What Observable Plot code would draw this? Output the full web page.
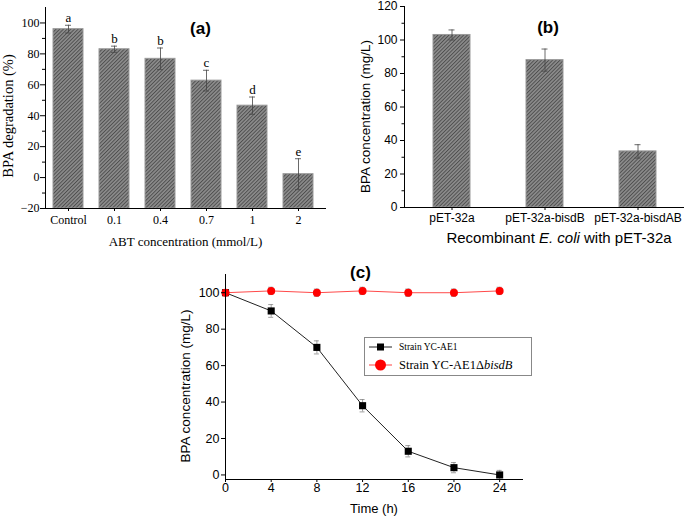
<!DOCTYPE html>
<html><head><meta charset="utf-8">
<script src="https://cdn.jsdelivr.net/npm/d3@7"></script>
<script src="https://cdn.jsdelivr.net/npm/@observablehq/plot@0.6"></script>
<style>
body{margin:0;background:#fff;}
#wrap{position:relative;width:685px;height:517px;overflow:hidden;background:#fff;}
.panel{position:absolute;}
.panel svg{overflow:visible;}
.lbl{position:absolute;white-space:nowrap;color:#000;}
</style></head><body>
<svg width="0" height="0" style="position:absolute">
<defs><pattern id="hatch" patternUnits="userSpaceOnUse" width="2.6" height="2.6" patternTransform="rotate(45)">
<rect width="2.6" height="2.6" fill="#8c8c8c"/><line x1="0.5" y1="0" x2="0.5" y2="2.6" stroke="#4a4a4a" stroke-width="0.9"/></pattern></defs></svg>
<div id="wrap">
  <div class="panel" id="pa" style="left:0;top:0"></div>
  <div class="panel" id="pb" style="left:340px;top:0"></div>
  <div class="panel" id="pc" style="left:0;top:250px"></div>
  <div class="lbl" id="bxlab" style="font-family:'Liberation Sans',Arial,sans-serif;font-size:15px;left:559px;top:229px;transform:translateX(-50%)">Recombinant <i>E. coli</i> with pET-32a</div>
  <div id="legend" style="position:absolute;left:364px;top:337px;width:168px;height:39px;box-sizing:border-box;border:1px solid #888;background:#fff;">
    <svg width="168" height="39" style="position:absolute;left:-1px;top:-1px">
      <line x1="5" x2="28" y1="10" y2="10" stroke="#222" stroke-width="1"/>
      <rect x="13" y="6.5" width="7" height="7" fill="#000"/>
      <text id="leg1" x="35" y="10" dy="0.33em" font-family="Liberation Serif, serif" font-size="9.5px"></text>
      <line x1="5" x2="28" y1="28" y2="28" stroke="#ff4040" stroke-width="1"/>
      <circle cx="16.5" cy="28" r="5.5" fill="#ff0000"/>
      <text id="leg2" x="35" y="28" dy="0.33em" font-family="Liberation Serif, serif" font-size="12.5px"></text>
    </svg>
  </div>
</div>
<script>
// ---------- Panel (a) data ----------
const aCats = ["Control", "0.1", "0.4", "0.7", "1", "2"];
const aMeans = [96, 83, 76.8, 62.7, 46.5, 2.2];
const aErrs = [2.5, 2, 7, 6.7, 5.6, 10];
const aLetters = ["a", "b", "b", "c", "d", "e"];
const aYDomain = [-20, 110];
const aYTicks = [-20, 0, 20, 40, 60, 80, 100];
const aYMinor = [-10, 10, 30, 50, 70, 90];
const aTitle = "(a)";
const aYLabel = "BPA degradation (%)";
const aXLabel = "ABT concentration (mmol/L)";

// ---------- Panel (b) data ----------
const bCats = ["pET-32a", "pET-32a-bisdB", "pET-32a-bisdAB"];
const bMeans = [103, 88, 33.5];
const bErrs = [3, 6.6, 4];
const bYDomain = [0, 120];
const bYTicks = [0, 20, 40, 60, 80, 100, 120];
const bYMinor = [10, 30, 50, 70, 90, 110];
const bTitle = "(b)";
const bYLabel = "BPA concentration (mg/L)";

// ---------- Panel (c) data ----------
const cTimes = [0, 4, 8, 12, 16, 20, 24];
const cWT = [100, 90, 70, 38, 13, 4, 0];
const cWTErr = [1, 3.5, 3.6, 3.4, 3.1, 2.8, 2.5];
const cMut = [100, 101, 100, 101, 100, 100, 101];
const cMutErr = [1, 2, 2, 2, 2, 2, 2];
const cXTicks = [0, 4, 8, 12, 16, 20, 24];
const cYTicks = [0, 20, 40, 60, 80, 100];
const cXDomain = [0, 26];
const cYDomain = [-2.5, 110];
const cTitle = "(c)";
const cYLabel = "BPA concentration (mg/L)";
const cXLabel = "Time (h)";
const cSeries = ["Strain YC-AE1", "Strain YC-AE1\u0394", "bisdB"];

const serif = '"Liberation Serif","Times New Roman",serif';
const sans = '"Liberation Sans",Arial,sans-serif';

// ---------- build (a) ----------
const aData = aCats.map((c, i) => ({cat: c, v: aMeans[i], e: aErrs[i], lab: aLetters[i]}));
const plotA = Plot.plot({
  width: 340, height: 250, marginLeft: 45, marginRight: 15, marginTop: 7, marginBottom: 42,
  style: {fontFamily: serif, fontSize: "12px", color: "#000", background: "transparent", overflow: "visible"},
  x: {type: "band", domain: aCats, paddingInner: 0.353, paddingOuter: 0.2, align: 0.41, label: null},
  y: {domain: aYDomain, label: null},
  marks: [
    Plot.barY(aData, {x: "cat", y1: () => aYDomain[0], y2: "v", fill: "url(#hatch)", stroke: "#9a9a9a", strokeWidth: 1}),
    Plot.ruleX(aData, {x: "cat", y1: d => d.v - d.e, y2: d => d.v + d.e, stroke: "#444", strokeWidth: 0.8}),
    Plot.tickY(aData, {x: "cat", y: d => d.v + d.e, insetLeft: 12, insetRight: 12, stroke: "#444", strokeWidth: 0.8}),
    Plot.tickY(aData, {x: "cat", y: d => d.v - d.e, insetLeft: 12, insetRight: 12, stroke: "#444", strokeWidth: 0.8}),
    Plot.text(aData, {x: "cat", y: d => d.v + d.e, text: "lab", dy: -7, lineAnchor: "middle", fontSize: 13}),
    Plot.frame({anchor: "left", stroke: "#000"}),
    Plot.frame({anchor: "bottom", stroke: "#000"}),
    Plot.axisY(aYTicks, {tickSize: 5, tickPadding: 1, label: null}),
    Plot.axisY(aYMinor, {tickSize: 3, tickFormat: () => "", label: null}),
    Plot.axisX({tickSize: 3, tickPadding: 4, label: null}),
    Plot.text([aYLabel], {frameAnchor: "left", dx: -37, dy: 8, rotate: -90, textAnchor: "middle", lineAnchor: "middle", fontSize: 14.5}),
    Plot.text([aXLabel], {frameAnchor: "bottom", dy: 33, textAnchor: "middle", lineAnchor: "middle", fontSize: 13}),
    Plot.text([aTitle], {frameAnchor: "top", dx: 15, dy: 21, textAnchor: "middle", lineAnchor: "middle", fontSize: 17, fontWeight: "bold", fontFamily: sans})
  ]
});
document.getElementById("pa").append(plotA);

// ---------- build (b) ----------
const bData = bCats.map((c, i) => ({cat: c, v: bMeans[i], e: bErrs[i]}));
const plotB = Plot.plot({
  width: 345, height: 250, marginLeft: 64, marginRight: 2, marginTop: 6, marginBottom: 43,
  style: {fontFamily: sans, fontSize: "12px", color: "#000", background: "transparent", overflow: "visible"},
  x: {type: "band", domain: bCats, paddingInner: 0.6, paddingOuter: 0.3, align: 0.52, label: null},
  y: {domain: bYDomain, label: null},
  marks: [
    Plot.barY(bData, {x: "cat", y1: () => bYDomain[0], y2: "v", fill: "url(#hatch)", stroke: "#9a9a9a", strokeWidth: 1}),
    Plot.ruleX(bData, {x: "cat", y1: d => d.v - d.e, y2: d => d.v + d.e, stroke: "#444", strokeWidth: 0.8}),
    Plot.tickY(bData, {x: "cat", y: d => d.v + d.e, insetLeft: 15.5, insetRight: 15.5, stroke: "#444", strokeWidth: 0.8}),
    Plot.tickY(bData, {x: "cat", y: d => d.v - d.e, insetLeft: 15.5, insetRight: 15.5, stroke: "#444", strokeWidth: 0.8}),
    Plot.frame({anchor: "left", stroke: "#000"}),
    Plot.frame({anchor: "bottom", stroke: "#000"}),
    Plot.axisY(bYTicks, {tickSize: 4, tickPadding: 3, label: null}),
    Plot.axisY(bYMinor, {tickSize: 2.5, tickFormat: () => "", label: null}),
    Plot.axisX({tickSize: 3, tickPadding: 3, label: null}),
    Plot.text([bYLabel], {frameAnchor: "left", dx: -39, dy: 9.5, rotate: -90, textAnchor: "middle", lineAnchor: "middle", fontSize: 13.5}),
    Plot.text([bTitle], {frameAnchor: "top", dx: 4, dy: 21, textAnchor: "middle", lineAnchor: "middle", fontSize: 17, fontWeight: "bold"})
  ]
});
document.getElementById("pb").append(plotB);

// ---------- build (c) ----------
const wt = cTimes.map((t, i) => ({t, v: cWT[i], e: cWTErr[i]}));
const mut = cTimes.map((t, i) => ({t, v: cMut[i], e: cMutErr[i]}));
function errMarks(data) {
  return [
    Plot.ruleX(data, {x: "t", y1: d => d.v - d.e, y2: d => d.v + d.e, stroke: "#888", strokeWidth: 0.8}),
    Plot.ruleY(data, {x1: "t", x2: "t", y: d => d.v + d.e, insetLeft: -2.5, insetRight: -2.5, stroke: "#888", strokeWidth: 0.8}),
    Plot.ruleY(data, {x1: "t", x2: "t", y: d => d.v - d.e, insetLeft: -2.5, insetRight: -2.5, stroke: "#888", strokeWidth: 0.8})
  ];
}
const plotC = Plot.plot({
  width: 685, height: 267, marginLeft: 225, marginRight: 163, marginTop: 24, marginBottom: 38,
  style: {fontFamily: sans, fontSize: "12.5px", color: "#000", background: "transparent", overflow: "visible"},
  x: {domain: cXDomain, label: null},
  y: {domain: cYDomain, label: null},
  marks: [
    Plot.line(wt, {x: "t", y: "v", stroke: "#222", strokeWidth: 1}),
    Plot.line(mut, {x: "t", y: "v", stroke: "#ff4a4a", strokeWidth: 1}),
    ...errMarks(wt),
    ...errMarks(mut),
    Plot.dot(wt, {x: "t", y: "v", symbol: "square", r: 4, fill: "#000", stroke: "none"}),
    Plot.dot(mut, {x: "t", y: "v", symbol: "circle", r: 4, fill: "#ff0000", stroke: "none"}),
    Plot.frame({anchor: "left", stroke: "#000"}),
    Plot.frame({anchor: "bottom", stroke: "#000"}),
    Plot.axisY(cYTicks, {tickSize: 4, tickPadding: 2, label: null}),
    Plot.axisX(cXTicks, {tickSize: 3, tickPadding: 1, label: null}),
    Plot.text([cYLabel], {frameAnchor: "left", dx: -40, dy: 9, rotate: -90, textAnchor: "middle", lineAnchor: "middle", fontSize: 13.5}),
    Plot.text([cXLabel], {frameAnchor: "bottom", dy: 29.5, textAnchor: "middle", lineAnchor: "middle", fontSize: 13}),
    Plot.text([cTitle], {frameAnchor: "top", dx: -13.5, dy: -1.5, textAnchor: "middle", lineAnchor: "middle", fontSize: 17, fontWeight: "bold"})
  ]
});
document.getElementById("pc").append(plotC);

// legend texts
document.getElementById("leg1").textContent = cSeries[0];
const l2 = document.getElementById("leg2");
l2.textContent = cSeries[1];
const ts = document.createElementNS("http://www.w3.org/2000/svg", "tspan");
ts.setAttribute("font-style", "italic");
ts.textContent = cSeries[2];
l2.appendChild(ts);
</script>
</body></html>
